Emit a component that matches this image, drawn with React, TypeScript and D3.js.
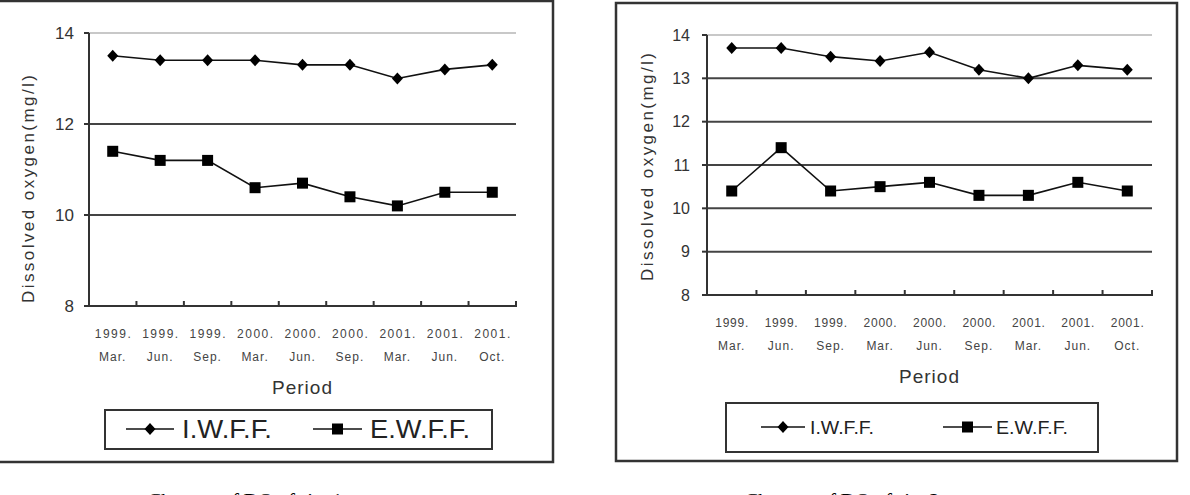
import { useEffect, useRef } from 'react'
import * as d3 from 'd3'

// periods on the x axis (two-line labels)
const periodYears = ['1999.', '1999.', '1999.', '2000.', '2000.', '2000.', '2001.', '2001.', '2001.']
const periodMonths = ['Mar.', 'Jun.', 'Sep.', 'Mar.', 'Jun.', 'Sep.', 'Mar.', 'Jun.', 'Oct.']

// dissolved oxygen, site 1
const site1IWFF = [13.5, 13.4, 13.4, 13.4, 13.3, 13.3, 13.0, 13.2, 13.3]
const site1EWFF = [11.4, 11.2, 11.2, 10.6, 10.7, 10.4, 10.2, 10.5, 10.5]
const site1Ticks = [8, 10, 12, 14]

// dissolved oxygen, site 2
const site2IWFF = [13.7, 13.7, 13.5, 13.4, 13.6, 13.2, 13.0, 13.3, 13.2]
const site2EWFF = [10.4, 11.4, 10.4, 10.5, 10.6, 10.3, 10.3, 10.6, 10.4]
const site2Ticks = [8, 9, 10, 11, 12, 13, 14]

const seriesNames = ['I.W.F.F.', 'E.W.F.F.']
const captions = ['Changes of DO of site 1', 'Changes of DO of site 2']

const FONT = '"Liberation Sans", Arial, sans-serif'

function drawChart(svg, cfg) {
  const g = svg.append('g')

  // outer frame
  g.append('rect')
    .attr('x', cfg.box[0]).attr('y', cfg.box[1])
    .attr('width', cfg.box[2]).attr('height', cfg.box[3])
    .attr('fill', '#fff').attr('stroke', '#333').attr('stroke-width', 2.5)

  const x = d3.scaleBand().domain(d3.range(periodYears.length)).range([cfg.x0, cfg.x1]).padding(0)
  const y = d3.scaleLinear().domain([8, 14]).range([cfg.y1, cfg.y0])

  // gridlines
  cfg.ticks.forEach(t => {
    if (t === 8) return
    g.append('line')
      .attr('x1', cfg.x0).attr('x2', cfg.x1)
      .attr('y1', y(t)).attr('y2', y(t))
      .attr('stroke', t === 14 ? '#c8c8c8' : '#444')
      .attr('stroke-width', 2)
  })

  // axes
  g.append('line').attr('x1', cfg.x0).attr('x2', cfg.x0).attr('y1', cfg.y0).attr('y2', cfg.y1)
    .attr('stroke', '#333').attr('stroke-width', 2)
  g.append('line').attr('x1', cfg.x0 - 1).attr('x2', cfg.x1 + 1).attr('y1', cfg.y1).attr('y2', cfg.y1)
    .attr('stroke', '#333').attr('stroke-width', 2)

  // y ticks + labels
  cfg.ticks.forEach(t => {
    g.append('line').attr('x1', cfg.x0 - 5).attr('x2', cfg.x0).attr('y1', y(t)).attr('y2', y(t))
      .attr('stroke', '#333').attr('stroke-width', 2)
    g.append('text')
      .attr('x', cfg.x0 - cfg.yLabelGap).attr('y', y(t))
      .attr('dy', '0.36em').attr('text-anchor', 'end')
      .style('font-family', FONT).style('font-size', cfg.yFont + 'px').style('fill', '#333')
      .text(t)
  })

  // x ticks at band edges
  d3.range(periodYears.length + 1).forEach(i => {
    const px = cfg.x0 + i * x.bandwidth()
    g.append('line').attr('x1', px).attr('x2', px).attr('y1', cfg.y1).attr('y2', cfg.y1 - 5)
      .attr('stroke', '#333').attr('stroke-width', 2)
  })

  // x labels
  periodYears.forEach((yr, i) => {
    const cx = x(i) + x.bandwidth() / 2
    g.append('text')
      .attr('x', cx).attr('y', cfg.xl1).attr('text-anchor', 'middle')
      .attr('textLength', cfg.xlw).attr('lengthAdjust', 'spacing')
      .style('font-family', FONT).style('font-size', cfg.xFont + 'px').style('fill', '#444')
      .text(yr)
    g.append('text')
      .attr('x', cx).attr('y', cfg.xl2).attr('text-anchor', 'middle')
      .attr('letter-spacing', 1)
      .style('font-family', FONT).style('font-size', cfg.xFont + 'px').style('fill', '#444')
      .text(periodMonths[i])
  })

  // axis titles
  g.append('text')
    .attr('x', (cfg.x0 + cfg.x1) / 2).attr('y', cfg.periodY).attr('text-anchor', 'middle')
    .attr('letter-spacing', 1)
    .style('font-family', FONT).style('font-size', '19px').style('fill', '#333')
    .text('Period')

  g.append('text')
    .attr('transform', `translate(${cfg.yTitleX},${cfg.yTitleY}) rotate(-90)`)
    .attr('text-anchor', 'middle').attr('dy', '0.35em')
    .attr('textLength', 228).attr('lengthAdjust', 'spacing')
    .style('font-family', FONT).style('font-size', '17px').style('fill', '#333')
    .text('Dissolved oxygen(mg/l)')

  // lines + markers
  const line = d3.line().x((d, i) => x(i) + x.bandwidth() / 2).y(d => y(d))
  ;[cfg.a, cfg.b].forEach((vals, si) => {
    g.append('path').attr('d', line(vals)).attr('fill', 'none')
      .attr('stroke', '#111').attr('stroke-width', 1.6)
    vals.forEach((v, i) => {
      const cx = x(i) + x.bandwidth() / 2
      if (si === 0) {
        g.append('path').attr('d', `M${cx},${y(v) - 6}L${cx + 5.5},${y(v)}L${cx},${y(v) + 6}L${cx - 5.5},${y(v)}Z`)
          .attr('fill', '#000')
      } else {
        g.append('rect').attr('x', cx - 5.5).attr('y', y(v) - 5.5).attr('width', 11).attr('height', 11)
          .attr('fill', '#000')
      }
    })
  })

  // legend
  const lg = cfg.legend
  g.append('rect').attr('x', lg.box[0]).attr('y', lg.box[1]).attr('width', lg.box[2]).attr('height', lg.box[3])
    .attr('fill', '#fff').attr('stroke', '#333').attr('stroke-width', 2)
  lg.items.forEach((it, si) => {
    g.append('line').attr('x1', it.l0).attr('x2', it.l1).attr('y1', lg.cy).attr('y2', lg.cy)
      .attr('stroke', '#111').attr('stroke-width', 1.6)
    const mx = (it.l0 + it.l1) / 2
    if (si === 0) {
      g.append('path').attr('d', `M${mx},${lg.cy - 6}L${mx + 5.5},${lg.cy}L${mx},${lg.cy + 6}L${mx - 5.5},${lg.cy}Z`)
        .attr('fill', '#000')
    } else {
      g.append('rect').attr('x', mx - 5.5).attr('y', lg.cy - 5.5).attr('width', 11).attr('height', 11).attr('fill', '#000')
    }
    g.append('text')
      .attr('x', it.tx).attr('y', lg.cy).attr('dy', '0.36em')
      .attr('textLength', it.tw).attr('lengthAdjust', 'spacingAndGlyphs')
      .style('font-family', FONT).style('font-size', lg.font + 'px').style('fill', '#222')
      .text(seriesNames[si])
  })

  // caption (mostly below the crop, as in the source)
  g.append('text')
    .attr('x', cfg.capX).attr('y', 508).attr('text-anchor', 'middle')
    .attr('textLength', 195).attr('lengthAdjust', 'spacing')
    .style('font-family', '"Liberation Serif", "Times New Roman", serif').style('font-size', '21px')
    .style('fill', '#000')
    .text(cfg.caption)
}

export default function App() {
  const svgRef = useRef(null)

  useEffect(() => {
    const svg = d3.select(svgRef.current)
    svg.selectAll('*').remove()

    drawChart(svg, {
      box: [-3, 1, 556, 461],
      x0: 89, x1: 516, y0: 33, y1: 306,
      ticks: site1Ticks, yFont: 17, yLabelGap: 15,
      xl1: 338, xl2: 361, xFont: 12, xlw: 36,
      periodY: 394, yTitleX: 28, yTitleY: 189,
      a: site1IWFF, b: site1EWFF,
      legend: {
        box: [105, 410, 387, 39], cy: 429, font: 25,
        items: [
          { l0: 126, l1: 174, tx: 182, tw: 90 },
          { l0: 313, l1: 362, tx: 370, tw: 100 }
        ]
      },
      capX: 245, caption: captions[0]
    })

    drawChart(svg, {
      box: [616, 3, 561, 458],
      x0: 707, x1: 1152, y0: 35, y1: 295,
      ticks: site2Ticks, yFont: 16, yLabelGap: 17,
      xl1: 327, xl2: 350, xFont: 12, xlw: 33,
      periodY: 383, yTitleX: 647, yTitleY: 167,
      a: site2IWFF, b: site2EWFF,
      legend: {
        box: [726, 403, 372, 49], cy: 427, font: 19,
        items: [
          { l0: 761, l1: 805, tx: 810, tw: 64 },
          { l0: 943, l1: 992, tx: 996, tw: 72 }
        ]
      },
      capX: 842, caption: captions[1]
    })
  }, [])

  return (
    <svg ref={svgRef} width={1190} height={495}
      style={{ position: 'absolute', left: 0, top: 0, background: '#fff' }} />
  )
}
